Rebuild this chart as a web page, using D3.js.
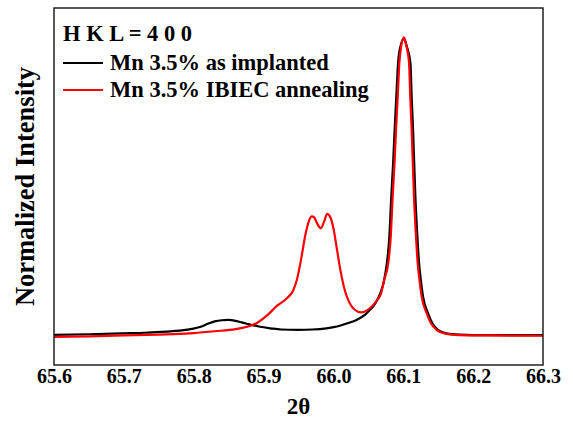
<!DOCTYPE html>
<html><head><meta charset="utf-8">
<script src="https://cdn.jsdelivr.net/npm/d3@7"></script>
<style>body{margin:0;background:#fff}svg{display:block}text{font-family:"Liberation Serif","Times New Roman",serif;font-weight:bold;fill:#000}</style>
</head><body>
<script>
const xTicks = [65.6, 65.7, 65.8, 65.9, 66.0, 66.1, 66.2, 66.3];
const seriesNames = ["Mn 3.5% as implanted", "Mn 3.5% IBIEC annealing"];
const legendTitle = "H K L = 4 0 0";
const xTitle = "2θ";
const yTitle = "Normalized Intensity";

const blackX = [65.60,65.65,65.70,65.73,65.76,65.78,65.80,65.81,65.82,65.83,65.84,65.85,65.86,65.87,65.88,65.895,65.91,65.925,65.95,65.97,65.99,66.005,66.02,66.033,66.045,66.052,66.060,66.067,66.072,66.0765,66.080,66.0828,66.0855,66.0876,66.090,66.0925,66.096,66.101,66.105,66.1103,66.112,66.114,66.1173,66.120,66.1226,66.1255,66.1283,66.1355,66.142,66.150,66.162,66.18,66.22,66.30];
const blackY = [0.003,0.005,0.008,0.010,0.014,0.017,0.024,0.030,0.040,0.048,0.052,0.053,0.050,0.044,0.038,0.030,0.025,0.021,0.020,0.021,0.025,0.031,0.042,0.053,0.070,0.086,0.108,0.142,0.180,0.243,0.330,0.466,0.580,0.689,0.800,0.912,0.970,0.995,0.970,0.912,0.800,0.689,0.466,0.340,0.243,0.180,0.131,0.075,0.040,0.019,0.008,0.004,0.002,0.002];

const redX = [65.60,65.65,65.70,65.75,65.78,65.80,65.83,65.86,65.876,65.890,65.905,65.919,65.933,65.942,65.948,65.954,65.960,65.965,65.969,65.972,65.977,65.982,65.987,65.991,65.995,66.000,66.005,66.010,66.016,66.022,66.030,66.040,66.048,66.055,66.062,66.068,66.073,66.0785,66.082,66.0848,66.0875,66.0896,66.092,66.0943,66.097,66.101,66.104,66.1083,66.110,66.112,66.1153,66.118,66.1206,66.1235,66.1263,66.1335,66.140,66.148,66.160,66.180,66.220,66.300];
const redY = [-0.004,-0.002,0.001,0.004,0.006,0.009,0.015,0.022,0.030,0.042,0.068,0.100,0.125,0.150,0.190,0.260,0.340,0.385,0.400,0.398,0.375,0.360,0.385,0.408,0.400,0.360,0.290,0.220,0.155,0.115,0.088,0.078,0.085,0.098,0.118,0.140,0.190,0.243,0.330,0.466,0.580,0.689,0.800,0.912,0.970,1.000,0.975,0.912,0.800,0.689,0.466,0.340,0.243,0.180,0.131,0.075,0.040,0.019,0.007,0.002,0.001,0.000];

const W = 573, H = 421;
const L = 54, R = 543, T = 8, B = 365;
const svg = d3.select("body").append("svg").attr("width", W).attr("height", H);
const x = d3.scaleLinear().domain([65.6, 66.3]).range([L, R]);
const y = d3.scaleLinear().domain([-0.098, 1.098]).range([B, T]);

const xAxis = d3.axisBottom(x).tickValues(xTicks).tickFormat(d3.format(".1f")).tickSize(0).tickPadding(0);
const gx = svg.append("g").attr("transform", `translate(0,${B})`).call(xAxis);
gx.attr("font-family", null).attr("font-size", null);
gx.select(".domain").remove();
gx.selectAll("text").attr("dy", null).attr("y", 18).style("font-size", "20px");

const line = d3.line().x(d => x(d[0])).y(d => y(d[1])).curve(d3.curveMonotoneX);
const blackData = blackX.map((v, i) => [v, blackY[i]]);
const redData = redX.map((v, i) => [v, redY[i]]);
const plot = svg.append("g");
plot.append("path").datum(blackData).attr("d", line).attr("fill", "none").attr("stroke", "#000").attr("stroke-width", 2.2);
plot.append("path").datum(redData).attr("d", line).attr("fill", "none").attr("stroke", "#ff0000").attr("stroke-width", 2.2);

svg.append("rect").attr("x", L).attr("y", T).attr("width", R - L).attr("height", B - T)
  .attr("fill", "none").attr("stroke", "#222").attr("stroke-width", 1.5);

svg.append("text").attr("x", 63).attr("y", 41).style("font-size", "22.5px").text(legendTitle);
const colors = ["#000", "#ff0000"];
const ly = [63, 90];
seriesNames.forEach((n, i) => {
  svg.append("line").attr("x1", 63).attr("x2", 103).attr("y1", ly[i]).attr("y2", ly[i]).attr("stroke", colors[i]).attr("stroke-width", 2.2);
  svg.append("text").attr("x", 110).attr("y", ly[i] + 7).style("font-size", "22.5px").text(n);
});

svg.append("text").attr("x", (L + R) / 2).attr("y", 414).attr("text-anchor", "middle").style("font-size", "23px").text(xTitle);
svg.append("text").attr("transform", `translate(34,${(T + B) / 2}) rotate(-90)`).attr("text-anchor", "middle").style("font-size", "26.5px").text(yTitle);
</script>
</body></html>
